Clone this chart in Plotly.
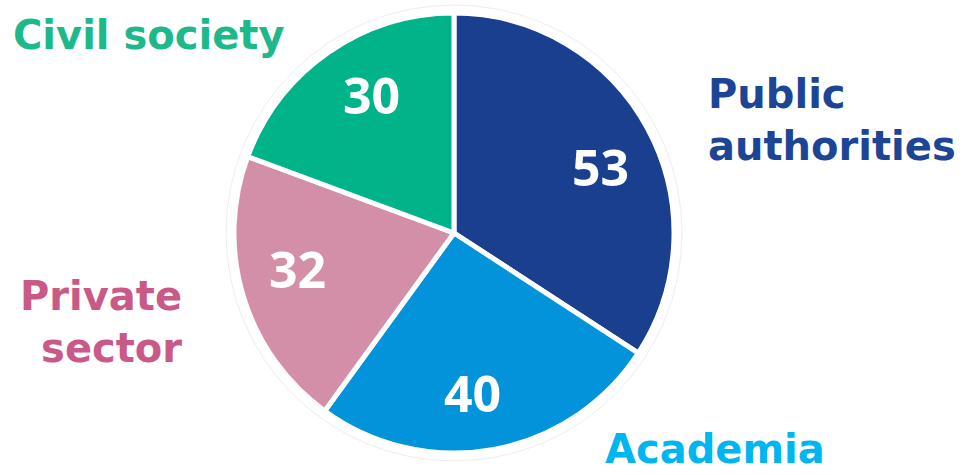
import math
import plotly.graph_objects as go

categories = ["Public authorities", "Academia", "Private sector", "Civil society"]
values = [53, 40, 32, 30]
slice_colors = ["#1B3F8F", "#0393DB", "#D38FA7", "#00B389"]
label_colors = ["#1D4596", "#00B6F0", "#C95A87", "#1DB98A"]
label_text = ["Public<br>authorities", "Academia", "Private<br>sector", "Civil society"]

NUM_FONT = "Open Sans"
LAB_FONT = "DejaVu Sans"
W, H = 969, 475
CX, CY, R = 454, 233, 220  # pie centre / radius in pixels

fig = go.Figure()
fig.add_trace(go.Pie(
    labels=categories,
    values=values,
    sort=False,
    direction="clockwise",
    rotation=0,
    marker=dict(colors=slice_colors, line=dict(color="white", width=5)),
    textinfo="none",
    domain=dict(x=[(CX - R) / W, (CX + R) / W],
                y=[(H - CY - R) / H, (H - CY + R) / H]),
    showlegend=False,
    hoverinfo="label+value",
))

# faint outer ring around the pie
RING = R + 8
fig.add_shape(
    type="circle", xref="paper", yref="paper",
    x0=(CX - RING) / W, x1=(CX + RING) / W,
    y0=(H - CY - RING) / H, y1=(H - CY + RING) / H,
    line=dict(color="#EDEDED", width=1), layer="below",
)

# value labels inside slices, placed at each slice's mid-angle
total = sum(values)
cum = 0
for v in values:
    mid = (cum + v / 2) / total * 360 + 4
    cum += v
    px = CX + 0.73 * R * math.sin(math.radians(mid))
    py = CY - 0.73 * R * math.cos(math.radians(mid))
    fig.add_annotation(
        text=str(v), xref="paper", yref="paper", x=px / W, y=1 - py / H,
        xanchor="center", yanchor="middle", showarrow=False,
        font=dict(family=NUM_FONT, size=50, color="white", weight="bold"),
    )

# outer category labels
placements = [
    (706, 120, "left", "middle"),
    (603, None, "left", "bottom"),
    (184, 322, "right", "middle"),
    (149, 35, "center", "middle"),
]
for i, (x, y, xa, ya) in enumerate(placements):
    yy = 1 / H if y is None else 1 - y / H
    fig.add_annotation(
        text=label_text[i], xref="paper", yref="paper", x=x / W, y=yy,
        xanchor=xa, yanchor=ya, align=xa if xa != "center" else "center",
        showarrow=False,
        font=dict(family=LAB_FONT, size=40, color=label_colors[i], weight="bold"),
    )

fig.update_layout(
    width=W, height=H,
    margin=dict(l=0, r=0, t=0, b=0),
    paper_bgcolor="white", plot_bgcolor="white",
)
fig.write_html("out.html", config={"displayModeBar": False},
               post_script="document.body.style.margin='0';")
